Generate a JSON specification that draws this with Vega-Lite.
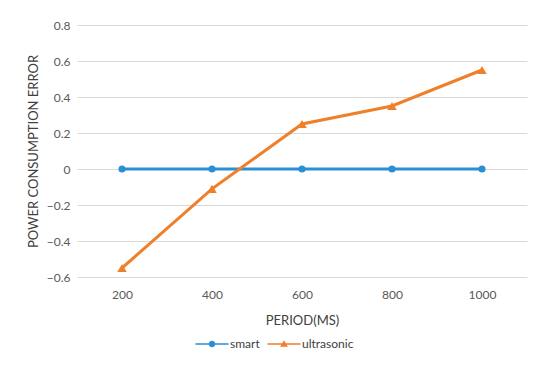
{
  "$schema": "https://vega.github.io/schema/vega-lite/v6.json",
  "width": 450,
  "height": 252,
  "autosize": "none",
  "padding": {"left": 77, "top": 25, "right": 23, "bottom": 94},
  "background": "white",
  "config": {
    "font": "Lato",
    "view": {"stroke": null},
    "axis": {"labelColor": "#595959", "labelFontSize": 12, "titleColor": "#404040", "titleFontSize": 13, "titleFontWeight": "normal"}
  },
  "data": {
    "values": [
      {"period": "200", "series": "smart", "value": 0},
      {"period": "400", "series": "smart", "value": 0},
      {"period": "600", "series": "smart", "value": 0},
      {"period": "800", "series": "smart", "value": 0},
      {"period": "1000", "series": "smart", "value": 0},
      {"period": "200", "series": "ultrasonic", "value": -0.55},
      {"period": "400", "series": "ultrasonic", "value": -0.11},
      {"period": "600", "series": "ultrasonic", "value": 0.25},
      {"period": "800", "series": "ultrasonic", "value": 0.35},
      {"period": "1000", "series": "ultrasonic", "value": 0.55}
    ]
  },
  "encoding": {
    "x": {
      "field": "period", "type": "ordinal", "sort": ["200", "400", "600", "800", "1000"],
      "scale": {"paddingInner": 1, "paddingOuter": 0.5},
      "axis": {"title": "PERIOD(MS)", "labelAngle": 0, "domain": false, "ticks": false, "labelPadding": 12, "titlePadding": 14, "grid": false}
    },
    "y": {
      "field": "value", "type": "quantitative",
      "scale": {"domain": [-0.6, 0.8], "nice": false},
      "axis": {"title": "POWER CONSUMPTION ERROR", "values": [-0.6, -0.4, -0.2, 0, 0.2, 0.4, 0.6, 0.8], "domain": false, "ticks": false, "labelPadding": 7, "titlePadding": 6, "gridColor": "#d9d9d9", "gridWidth": 1, "labelExpr": "datum.value == 0 ? '0' : format(datum.value, '.1f')"}
    },
    "color": {
      "field": "series", "type": "nominal",
      "scale": {"domain": ["smart", "ultrasonic"], "range": ["#2b8fd4", "#f07f2a"]},
      "legend": {
        "title": null, "orient": "none", "direction": "horizontal", "legendX": 118, "legendY": 302,
        "labelFontSize": 12, "labelColor": "#404040", "columnPadding": 7, "labelOffset": 1,
        "symbolSize": 1100, "symbolStrokeWidth": 0, "symbolOpacity": 1,
        "encode": {
          "symbols": {
            "update": {
              "shape": {"signal": "datum.value == 'smart' ? 'M-1,-0.05H1V0.05H-1Z M-0.2,0 A0.2,0.2 0 1,1 0.2,0 A0.2,0.2 0 1,1 -0.2,0Z' : 'M-1,-0.05H1V0.05H-1Z M-0.24,0.17 L0,-0.22 L0.24,0.17Z'"},
              "fill": {"signal": "datum.value == 'smart' ? '#2b8fd4' : '#f07f2a'"},
              "fillOpacity": {"value": 1},
              "strokeWidth": {"value": 0}
            }
          }
        }
      }
    }
  },
  "layer": [
    {"mark": {"type": "line", "strokeWidth": 3}},
    {
      "transform": [{"filter": "datum.series == 'smart'"}],
      "mark": {"type": "point", "filled": true, "opacity": 1, "shape": "circle", "size": 50}
    },
    {
      "transform": [{"filter": "datum.series == 'ultrasonic'"}],
      "mark": {"type": "point", "filled": true, "opacity": 1, "shape": "triangle-up", "size": 90}
    }
  ]
}
